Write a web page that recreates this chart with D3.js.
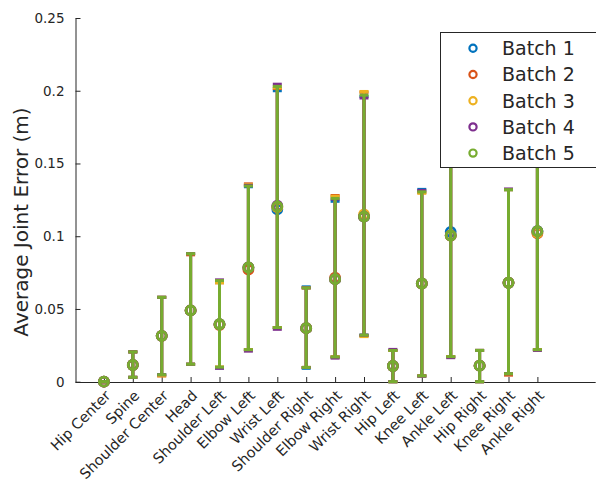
<!DOCTYPE html>
<html>
<head>
<meta charset="utf-8">
<script src="https://cdn.jsdelivr.net/npm/d3@7"></script>
<style>
  html, body { margin: 0; padding: 0; background: #fff; }
  svg { display: block; }
  text { font-family: "DejaVu Sans", sans-serif; fill: #262626; }
</style>
</head>
<body>
<script>
// ---------- DATA ----------
const categories = ["Hip Center", "Spine", "Shoulder Center", "Head", "Shoulder Left", "Elbow Left",
  "Wrist Left", "Shoulder Right", "Elbow Right", "Wrist Right", "Hip Left", "Knee Left",
  "Ankle Left", "Hip Right", "Knee Right", "Ankle Right"];
const batchNames = ["Batch 1", "Batch 2", "Batch 3", "Batch 4", "Batch 5"];
const batchColors = ["#0072BD", "#D95319", "#EDB120", "#7E2F8E", "#77AC30"];
const yTicks = [0, 0.05, 0.1, 0.15, 0.2, 0.25];
const yTickLabels = ["0", "0.05", "0.1", "0.15", "0.2", "0.25"];

// mean values per batch
const mean1 = [0, 0.0115, 0.0315, 0.049, 0.0395, 0.0785, 0.1185, 0.0368, 0.0705, 0.1135, 0.0108, 0.0675, 0.103, 0.011, 0.068, 0.1035];
const mean2 = [0, 0.0115, 0.0315, 0.049, 0.039, 0.077, 0.120, 0.0368, 0.0715, 0.1135, 0.0108, 0.0675, 0.1005, 0.011, 0.068, 0.102];
const mean3 = [0, 0.0115, 0.0315, 0.049, 0.0395, 0.0785, 0.120, 0.0368, 0.0705, 0.115, 0.0108, 0.0675, 0.1005, 0.011, 0.068, 0.1025];
const mean4 = [0, 0.0115, 0.0315, 0.049, 0.0395, 0.0785, 0.121, 0.0368, 0.0705, 0.1135, 0.0108, 0.0675, 0.1005, 0.011, 0.068, 0.1035];
const mean5 = [0, 0.0115, 0.0315, 0.049, 0.0395, 0.0785, 0.1205, 0.0368, 0.0705, 0.1135, 0.0108, 0.0675, 0.1005, 0.011, 0.068, 0.1035];

// lower end of error bars per batch
const low1 = [0, 0.003, 0.0048, 0.012, 0.0095, 0.022, 0.0372, 0.0092, 0.017, 0.032, 0, 0.004, 0.0172, 0, 0.0055, 0.022];
const low2 = [0, 0.003, 0.004, 0.012, 0.010, 0.022, 0.0372, 0.0098, 0.017, 0.0315, 0, 0.004, 0.0172, 0, 0.0045, 0.022];
const low3 = [0, 0.003, 0.004, 0.012, 0.010, 0.022, 0.0372, 0.0098, 0.017, 0.031, 0, 0.004, 0.0172, 0, 0.0055, 0.022];
const low4 = [0, 0.003, 0.0048, 0.012, 0.0092, 0.021, 0.036, 0.0098, 0.0162, 0.032, 0, 0.0038, 0.0165, 0, 0.0055, 0.0215];
const low5 = [0, 0.003, 0.0048, 0.012, 0.010, 0.022, 0.0372, 0.0098, 0.017, 0.032, 0, 0.004, 0.0172, 0, 0.0055, 0.022];

// upper end of error bars per batch
const up1 = [0, 0.0205, 0.058, 0.088, 0.069, 0.134, 0.200, 0.0652, 0.124, 0.196, 0.0215, 0.1322, 0.185, 0.0215, 0.132, 0.184];
const up2 = [0, 0.0205, 0.058, 0.0872, 0.068, 0.136, 0.2015, 0.0645, 0.128, 0.199, 0.0215, 0.130, 0.185, 0.0215, 0.132, 0.184];
const up3 = [0, 0.0205, 0.058, 0.088, 0.068, 0.1355, 0.202, 0.0645, 0.1275, 0.1995, 0.0215, 0.1295, 0.185, 0.0215, 0.132, 0.184];
const up4 = [0, 0.0205, 0.058, 0.088, 0.070, 0.135, 0.2045, 0.0645, 0.1255, 0.195, 0.0222, 0.1315, 0.185, 0.0215, 0.1325, 0.184];
const up5 = [0, 0.0205, 0.058, 0.088, 0.0695, 0.1345, 0.203, 0.0645, 0.126, 0.197, 0.0215, 0.1305, 0.185, 0.0215, 0.132, 0.184];

const means = [mean1, mean2, mean3, mean4, mean5];
const lows = [low1, low2, low3, low4, low5];
const ups = [up1, up2, up3, up4, up5];

// ---------- CHART ----------
const W = 596, H = 480;
const svg = d3.select("body").append("svg").attr("width", W).attr("height", H);

const x = d3.scaleLinear().domain([0, 18]).range([75, 595.2]);
const y = d3.scaleLinear().domain([0, 0.25]).range([381.7, 18]);
const axisColor = "#262626";

// Y axis
const yAxis = d3.axisLeft(y).tickValues(yTicks).tickFormat((d, i) => yTickLabels[i]).tickSizeInner(-5).tickSizeOuter(0).tickPadding(11);
const gy = svg.append("g").attr("transform", "translate(75.5,0)").call(yAxis);
gy.select(".domain").attr("stroke", axisColor).attr("stroke-width", 1);
gy.selectAll(".tick line").attr("stroke", axisColor);
gy.selectAll(".tick text").attr("font-size", 13.5).attr("fill", "#262626").style("font-family", "DejaVu Sans, sans-serif");

// X axis
const xAxis = d3.axisBottom(x).tickValues(d3.range(1, categories.length + 1)).tickFormat(() => "").tickSizeInner(-5).tickSizeOuter(0);
const gx = svg.append("g").attr("transform", "translate(0,382)").call(xAxis);
gx.select(".domain").attr("stroke", axisColor).attr("stroke-width", 1);
gx.selectAll(".tick line").attr("stroke", axisColor);

// rotated category labels
svg.append("g").selectAll("text").data(categories).join("text")
  .attr("transform", (d, i) => `translate(${x(i + 1) + 4},${393}) rotate(-45)`)
  .attr("text-anchor", "end")
  .attr("dy", "0.35em")
  .attr("font-size", 14.5)
  .text(d => d);

// Y label
svg.append("text")
  .attr("transform", `translate(28,222) rotate(-90)`)
  .attr("text-anchor", "middle")
  .attr("font-size", 20)
  .text("Average Joint Error (m)");

// Error bars and markers per batch
const capHalf = 4.5;
batchNames.forEach((name, b) => {
  const g = svg.append("g").attr("stroke", batchColors[b]).attr("fill", "none");
  const idx = d3.range(categories.length);
  g.selectAll("line.v").data(idx).join("line").attr("class", "v")
    .attr("x1", i => x(i + 1)).attr("x2", i => x(i + 1))
    .attr("y1", i => y(lows[b][i])).attr("y2", i => y(ups[b][i]))
    .attr("stroke-width", 3);
  g.selectAll("line.lo").data(idx).join("line").attr("class", "lo")
    .attr("x1", i => x(i + 1) - capHalf).attr("x2", i => x(i + 1) + capHalf)
    .attr("y1", i => y(lows[b][i])).attr("y2", i => y(lows[b][i]))
    .attr("stroke-width", 3);
  g.selectAll("line.hi").data(idx).join("line").attr("class", "hi")
    .attr("x1", i => x(i + 1) - capHalf).attr("x2", i => x(i + 1) + capHalf)
    .attr("y1", i => y(ups[b][i])).attr("y2", i => y(ups[b][i]))
    .attr("stroke-width", 3);
  g.selectAll("circle").data(idx).join("circle")
    .attr("cx", i => x(i + 1)).attr("cy", i => y(means[b][i]))
    .attr("r", 4.5).attr("stroke-width", 2.8);
});

// Legend
const lg = svg.append("g");
lg.append("rect").attr("x", 440.5).attr("y", 32.5).attr("width", 170).attr("height", 135)
  .attr("fill", "#fff").attr("stroke", axisColor).attr("stroke-width", 1);
batchNames.forEach((name, b) => {
  const cy = 48.3 + b * 26.2;
  lg.append("circle").attr("cx", 473).attr("cy", cy).attr("r", 3.6)
    .attr("fill", "none").attr("stroke", batchColors[b]).attr("stroke-width", 2.2);
  lg.append("text").attr("x", 502).attr("y", cy).attr("dy", "0.36em")
    .attr("font-size", 19).text(name);
});
</script>
</body>
</html>
